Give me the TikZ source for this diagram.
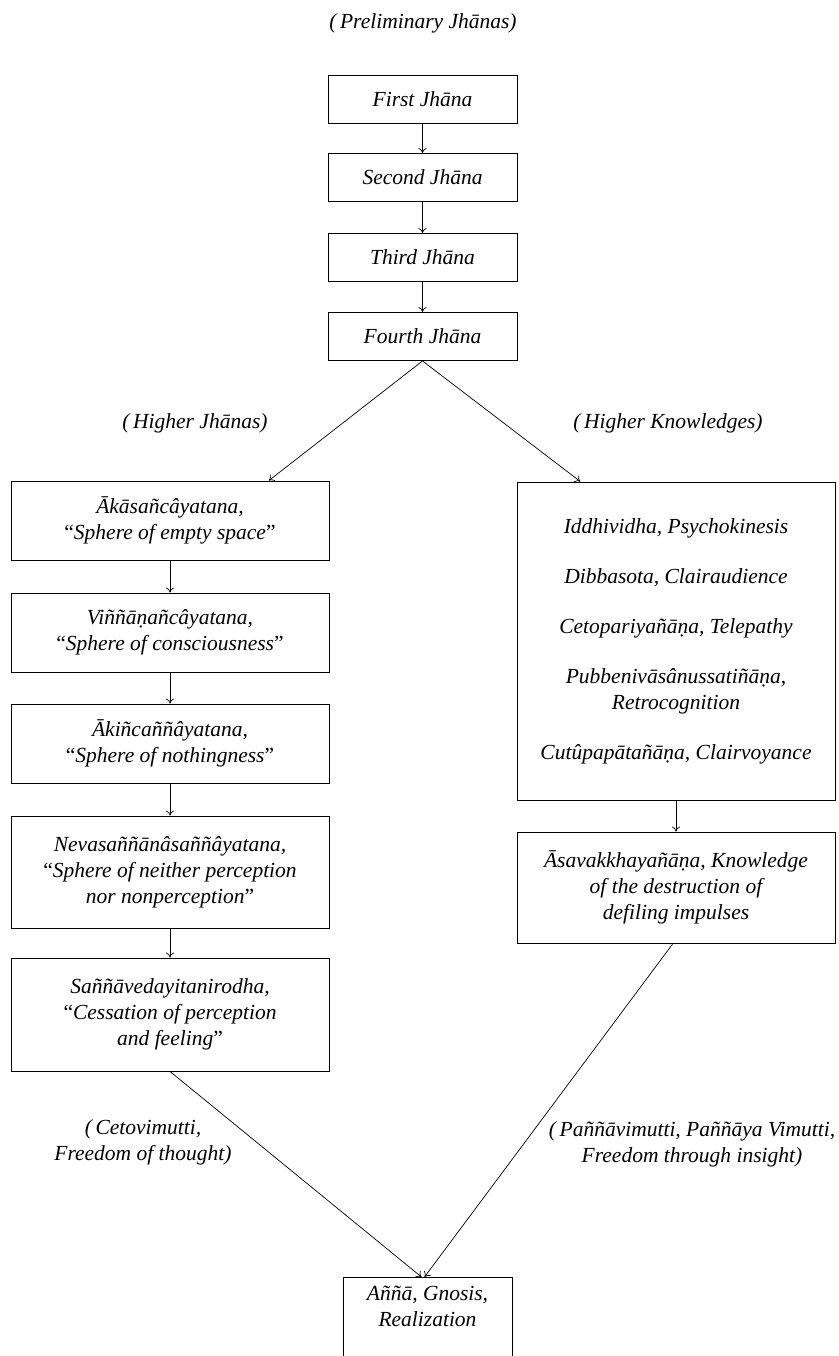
\documentclass[tikz,border=0pt]{standalone}
\usepackage{fontspec}
\setmainfont{Liberation Serif}
\usetikzlibrary{arrows.meta,calc}
\newcommand\diagfont{\fontsize{21.5}{26}\selectfont\itshape}
\newcommand\oq{{\upshape``}}
\newcommand\cq{{\upshape''}}
\begin{document}
\begin{tikzpicture}[x=1pt,y=-1pt,
  box/.style={draw,line width=0.9pt,align=center,inner sep=0pt,font=\diagfont},
  topbox/.style={box,minimum width=189pt,minimum height=48pt},
  sidebox/.style={box,minimum width=318pt},
  lbl/.style={align=center,inner sep=0pt,font=\diagfont},
  arr/.style={line width=0.7pt,-{To[length=5pt,width=8pt]}}]
\useasboundingbox (0,0) rectangle (838,1356);
\clip (0,0) rectangle (838,1356);

% labels
\node[lbl] (pre) at (423,23) {(\,Preliminary Jhānas)};
\node[lbl] (hj) at (195,423) {(\,Higher Jhānas)};
\node[lbl] (hk) at (668,423) {(\,Higher Knowledges)};
\node[lbl] (cv) at (143,1142) {(\,Cetovimutti,\\Freedom of thought)};
\node[lbl] (pv) at (692,1144) {(\,Paññāvimutti, Paññāya Vimutti,\\Freedom through insight)};

% preliminary jhanas
\node[topbox] (b1) at (422.5,99) {First Jhāna};
\node[topbox] (b2) at (422.5,177.5) {Second Jhāna};
\node[topbox] (b3) at (422.5,257.5) {Third Jhāna};
\node[topbox] (b4) at (422.5,336.5) {Fourth Jhāna};

% higher jhanas
\node[sidebox,minimum height=79pt] (L1) at (170,520.5) {Ākāsañcâyatana,\\\oq Sphere of empty space\cq};
\node[sidebox,minimum height=79pt] (L2) at (170,632.5) {Viññāṇañcâyatana,\\\oq Sphere of consciousness\cq};
\node[sidebox,minimum height=79pt] (L3) at (170,743.5) {Ākiñcaññâyatana,\\\oq Sphere of nothingness\cq};
\node[sidebox,minimum height=112pt] (L4) at (170,872) {Nevasaññānâsaññâyatana,\\\oq Sphere of neither perception\\nor nonperception\cq};
\node[sidebox,minimum height=113pt] (L5) at (170,1014.5) {Saññāvedayitanirodha,\\\oq Cessation of perception\\and feeling\cq};

% higher knowledges
\node[sidebox,minimum height=318pt] (R1) at (676,641) {Iddhividha, Psychokinesis\\[24pt]Dibbasota, Clairaudience\\[24pt]Cetopariyañāṇa, Telepathy\\[24pt]Pubbenivāsânussatiñāṇa,\\Retrocognition\\[24pt]Cutûpapātañāṇa, Clairvoyance};
\node[sidebox,minimum height=111pt] (R2) at (676,887.5) {Āsavakkhayañāṇa, Knowledge\\of the destruction of\\defiling impulses};

% realization
\node[box,anchor=north,minimum width=169pt,inner ysep=9pt] (G) at (427.5,1277) {Aññā, Gnosis,\\Realization\\[80pt]\mbox{}};

% connectors
\draw[arr] (b1) -- (b2);
\draw[arr] (b2) -- (b3);
\draw[arr] (b3) -- (b4);
\draw[arr] (b4.south) -- ($(L1.north west)!0.81!(L1.north east)$);
\draw[arr] (b4.south) -- ($(R1.north west)!0.2!(R1.north east)$);
\draw[arr] (L1) -- (L2);
\draw[arr] (L2) -- (L3);
\draw[arr] (L3) -- (L4);
\draw[arr] (L4) -- (L5);
\draw[arr] (R1) -- (R2);
\draw[arr] (L5.south) -- ($(G.north)+(-6,0)$);
\draw[arr] ($(R2.south)+(-3,0)$) -- ($(G.north)+(-3,0)$);
\end{tikzpicture}
\end{document}
